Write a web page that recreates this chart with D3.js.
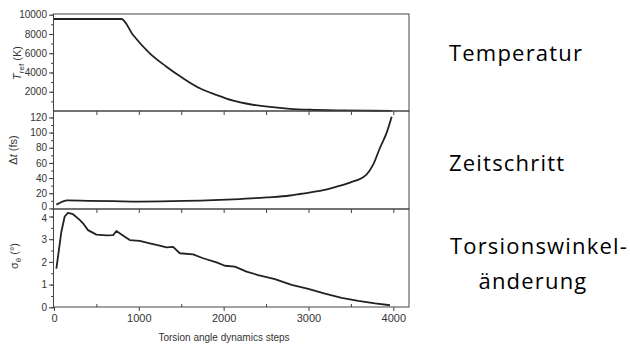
<!DOCTYPE html>
<html>
<head>
<meta charset="utf-8">
<script src="https://cdn.jsdelivr.net/npm/d3@7"></script>
<style>
  body { margin: 0; background: #fff; }
  svg { display: block; }
  .frame { fill: none; stroke: #444; stroke-width: 1; }
  .curve { fill: none; stroke: #222; stroke-width: 1.8; stroke-linejoin: round; }
  .tick text, .lbl { font-family: "Liberation Sans", Arial, sans-serif; fill: #333; }
  .side { font-family: "Open Sans", sans-serif; font-size: 22px; letter-spacing: 1.2px; fill: #000; }
</style>
</head>
<body>
<div id="chart"></div>
<script>
let w = 630
let h = 349

// Temperatur T_ref (K) over torsion angle dynamics steps
let tempSteps = [0, 400, 795, 932, 1129, 1326, 1522, 1719, 1916, 2112, 2309, 2545, 2781, 3017, 3370, 3700, 3980]
let tempValues = [9550, 9550, 9550, 7890, 5990, 4600, 3400, 2360, 1660, 1070, 700, 420, 230, 130, 60, 30, 20]

// Zeitschritt Δt (fs)
let dtSteps = [28, 100, 162, 400, 700, 1011, 1400, 1800, 2112, 2506, 2780, 2899, 3174, 3293, 3489, 3686, 3764, 3843, 3922, 3981]
let dtValues = [5, 9, 10.5, 10, 9.5, 9, 9.5, 10.5, 12, 14.5, 17, 19, 24, 27.5, 34, 45, 58, 80, 100, 121]

// Torsionswinkeländerung σθ (°)
let sigSteps = [28, 87, 126, 165, 224, 303, 342, 401, 500, 618, 697, 736, 795, 893, 1011, 1129, 1247, 1326, 1404, 1483, 1640, 1758, 1916, 2014, 2132, 2270, 2407, 2604, 2801, 2998, 3194, 3391, 3587, 3784, 3961]
let sigValues = [1.7, 3.33, 4.0, 4.16, 4.1, 3.85, 3.7, 3.4, 3.2, 3.17, 3.18, 3.36, 3.21, 2.96, 2.93, 2.82, 2.72, 2.64, 2.66, 2.38, 2.33, 2.16, 1.98, 1.83, 1.79, 1.57, 1.42, 1.24, 0.99, 0.81, 0.6, 0.42, 0.28, 0.17, 0.09]

let xTickValues = [0, 1000, 2000, 3000, 4000]
let sideLabels = ["Temperatur", "Zeitschritt", "Torsionswinkel-", "änderung"]

let svg = d3.select("#chart")
  .append("svg")
  .attr("width", w)
  .attr("height", h)

let left = 54, right = 409
let x = d3.scaleLinear().domain([0, 4185]).range([left, right])

let panels = [
  { top: 14, bottom: 111, y: d3.scaleLinear().domain([0, 10070]).range([111, 14]),
    major: d3.range(2000, 10001, 2000), minor: d3.range(1000, 10001, 1000),
    steps: tempSteps, values: tempValues, curve: d3.curveMonotoneX },
  { top: 111, bottom: 209, y: d3.scaleLinear().domain([0, 128.5]).range([208.4, 111]),
    major: d3.range(0, 121, 20), minor: d3.range(0, 126, 10),
    steps: dtSteps, values: dtValues, curve: d3.curveMonotoneX },
  { top: 209, bottom: 307, y: d3.scaleLinear().domain([0, 4.33]).range([307.3, 209]),
    major: d3.range(0, 5, 1), minor: d3.range(0, 4.3, 0.5),
    steps: sigSteps, values: sigValues, curve: d3.curveLinear }
]

panels.forEach((p, i) => {
  // minor y ticks
  svg.append("g")
    .attr("transform", "translate(" + left + ",0)")
    .call(d3.axisLeft(p.y).tickValues(p.minor).tickSize(3).tickFormat(""))
    .call(g => g.select(".domain").remove())
    .selectAll("line").attr("stroke", "#444")

  // major y ticks with labels
  svg.append("g")
    .attr("transform", "translate(" + left + ",0)")
    .call(d3.axisLeft(p.y).tickValues(p.major).tickSize(5).tickPadding(2).tickFormat(d3.format("d")))
    .call(g => g.select(".domain").remove())
    .call(g => g.selectAll("line").attr("stroke", "#444"))
    .selectAll("text")
      .attr("font-size", 10)
      // labels of touching panels sit very close: nudge them apart a little
      .attr("dy", d => i === 1 && d === 0 ? "0.1em" : i === 2 && d === 4 ? "0.48em" : "0.32em")

  // inner x ticks along panel top (except first panel)
  if (i > 0) {
    svg.append("g")
      .attr("transform", "translate(0," + p.top + ")")
      .call(d3.axisTop(x).tickValues(d3.range(500, 4001, 500)).tickSize(-4).tickFormat(""))
      .call(g => g.select(".domain").remove())
      .selectAll("line").attr("stroke", "#444")
  }

  let line = d3.line()
    .curve(p.curve)
    .x((d, k) => x(p.steps[k]))
    .y(d => p.y(d))

  svg.append("path")
    .datum(p.values)
    .attr("class", "curve")
    .attr("d", line)

  svg.append("rect")
    .attr("class", "frame")
    .attr("x", left - 0.5)
    .attr("y", p.top)
    .attr("width", right - left + 0.5)
    .attr("height", p.bottom - p.top)
})

// bottom x axis
svg.append("g")
  .attr("transform", "translate(0,307)")
  .call(d3.axisBottom(x).tickValues(xTickValues).tickSize(4).tickPadding(3).tickFormat(d3.format("d")))
  .call(g => g.select(".domain").remove())
  .call(g => g.selectAll("line").attr("stroke", "#444"))
  .selectAll("text").attr("font-size", 11)

svg.append("g")
  .attr("transform", "translate(0,307)")
  .call(d3.axisBottom(x).tickValues([500, 1500, 2500, 3500]).tickSize(-3).tickFormat(""))
  .call(g => g.select(".domain").remove())
  .selectAll("line").attr("stroke", "#444")

svg.append("text")
  .attr("class", "lbl")
  .attr("x", 224)
  .attr("y", 341)
  .attr("text-anchor", "middle")
  .attr("font-size", 10)
  .text("Torsion angle dynamics steps")

// y axis titles
let yTitle = (cx, cy) => svg.append("text")
  .attr("class", "lbl")
  .attr("font-size", 11)
  .attr("text-anchor", "middle")
  .attr("transform", "translate(" + cx + "," + cy + ") rotate(-90)")

let t1 = yTitle(21, 63)
t1.append("tspan").attr("font-style", "italic").text("T")
t1.append("tspan").attr("font-size", 8).attr("dy", 3).text("ref")
t1.append("tspan").attr("dy", -3).text(" (K)")

let t2 = yTitle(17, 150)
t2.append("tspan").text("Δ")
t2.append("tspan").attr("font-style", "italic").text("t")
t2.append("tspan").text(" (fs)")

let t3 = yTitle(18, 256)
t3.append("tspan").text("σ")
t3.append("tspan").attr("font-size", 8).attr("dy", 3).text("θ")
t3.append("tspan").attr("dy", -3).text(" (°)")

// side labels
svg.append("text").attr("class", "side").attr("x", 449).attr("y", 61).text(sideLabels[0])
svg.append("text").attr("class", "side").attr("x", 449).attr("y", 171).text(sideLabels[1])
svg.append("text").attr("class", "side").attr("x", 539).attr("y", 254).attr("text-anchor", "middle").text(sideLabels[2])
svg.append("text").attr("class", "side").attr("x", 533).attr("y", 289).attr("text-anchor", "middle").text(sideLabels[3])
</script>
</body>
</html>
